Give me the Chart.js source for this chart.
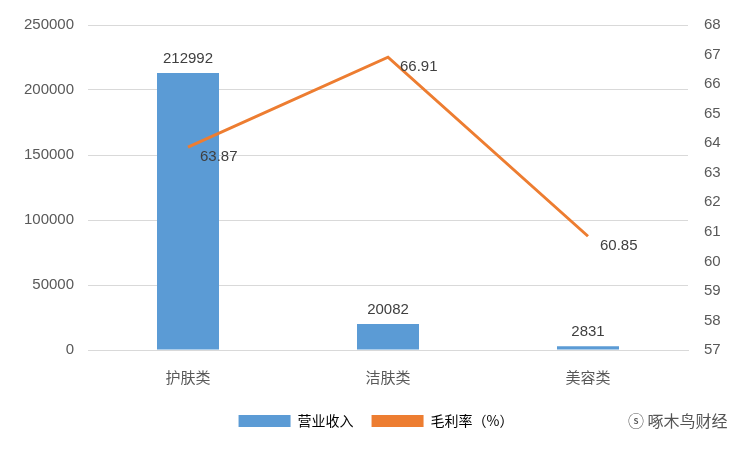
<!DOCTYPE html>
<html><head><meta charset="utf-8">
<script src="https://cdn.jsdelivr.net/npm/chart.js@4"></script>
<style>body{margin:0;background:#fff}#w{width:752px;height:452px;position:relative}
#wm{position:absolute;left:628px;top:408px;font:16px "Noto Sans CJK SC";color:#555}</style>
</head><body><div id="w"><canvas id="c" width="752" height="452"></canvas><div id="wm">ⓢ 啄木鸟财经</div></div>
<script>
const categories=["护肤类","洁肤类","美容类"];
const revenue=[212992,20082,2831];
const margin=[63.87,66.91,60.85];
const font='"Noto Sans CJK SC", sans-serif';
const nfont='"Liberation Sans", Arial, sans-serif';
const labels={id:'labels',afterDatasetsDraw(ch){const x=ch.ctx;x.save();x.font='15px '+nfont;x.fillStyle='#404040';
ch.getDatasetMeta(0).data.forEach((b,i)=>{x.textAlign='center';x.fillText(revenue[i],b.x,b.y-14);});
ch.getDatasetMeta(1).data.forEach((p,i)=>{x.textAlign='left';x.fillText(margin[i].toFixed(2),p.x+12,p.y+10);});x.restore();}};
new Chart(document.getElementById('c'),{data:{labels:categories,datasets:[
{type:'bar',label:'营业收入',data:revenue,backgroundColor:'#5b9bd5',yAxisID:'y',barPercentage:0.62,categoryPercentage:0.5,order:2},
{type:'line',label:'毛利率（%）',data:margin,borderColor:'#ed7d31',backgroundColor:'#ed7d31',borderWidth:3,pointRadius:0,yAxisID:'y1',order:1}]},
options:{responsive:false,animation:false,layout:{padding:{left:0,right:0,top:25,bottom:14}},
plugins:{legend:{position:'bottom',labels:{font:{family:font,size:14},color:'#595959',boxWidth:52,boxHeight:12,padding:18,
generateLabels(ch){return [{text:'营业收入',fillStyle:'#5b9bd5',strokeStyle:'#5b9bd5',lineWidth:0,datasetIndex:0},{text:'毛利率（%）',fillStyle:'#ed7d31',strokeStyle:'#ed7d31',lineWidth:0,datasetIndex:1}];}}},tooltip:{enabled:false}},
scales:{x:{grid:{display:false},border:{color:'#d9d9d9'},ticks:{font:{family:font,size:15},color:'#595959',padding:10}},
y:{min:0,max:250000,afterFit(s){s.width=88;},ticks:{stepSize:50000,callback:v=>String(v),font:{family:nfont,size:15},color:'#595959',padding:14},grid:{color:'#d9d9d9',drawTicks:false},border:{display:false}},
y1:{position:'right',min:57,max:68,afterFit(s){s.width=64;},ticks:{stepSize:1,font:{family:nfont,size:15},color:'#595959',padding:16},grid:{display:false,drawTicks:false},border:{display:false}}}},
plugins:[labels]});
</script></body></html>
